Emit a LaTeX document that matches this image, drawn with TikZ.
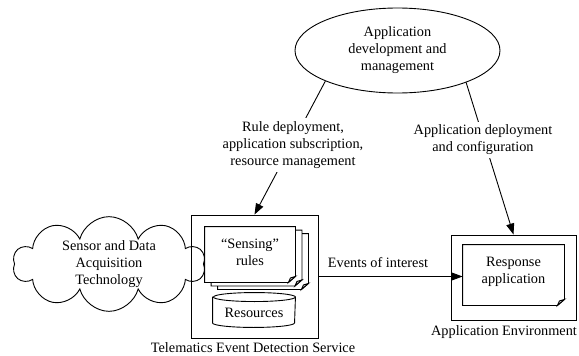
\documentclass[tikz,border=0pt]{standalone}
\usepackage{fontspec}
\setmainfont{Liberation Serif}
\usetikzlibrary{arrows.meta,shapes.geometric,shapes.symbols,calc}
\newcommand\foldeddoc[1]{%
  \draw[fill=white] (#1.north west) -- (#1.north east) -- ([yshift=6pt]#1.south east)
    -- ([xshift=-7pt]#1.south east) -- (#1.south west) -- cycle;
  \draw[fill=gray!25] ([yshift=6pt]#1.south east) -- ([xshift=-5pt,yshift=4.5pt]#1.south east)
    -- ([xshift=-7pt]#1.south east) -- cycle;}
\begin{document}
\begin{tikzpicture}[x=1pt,y=-1pt,line width=0.9pt,
  txt/.style={font=\fontsize{14.3}{17}\selectfont,align=center,inner sep=0pt},
  lbl/.style={txt,fill=white,inner sep=3pt},
  box/.style={draw,rectangle,inner sep=0pt},
  docnode/.style={rectangle,inner sep=0pt},
  arr/.style={-{Triangle[length=11pt,width=8pt]}}]
\useasboundingbox (0,0) rectangle (579,356);
% top ellipse
\node[draw,ellipse,minimum width=205pt,minimum height=85pt,txt] (app) at (397.5,50.5)
  {Application\\development and\\management};
% cloud
\node[draw,cloud,cloud puffs=10,cloud ignores aspect,minimum width=192pt,minimum height=92pt,txt]
  (sdat) at (109,264) {Sensor and Data\\Acquisition\\Technology};
% telematics box
\node[box,minimum width=127pt,minimum height=123pt] (tes) at (254.5,276.5) {};
\node[txt,anchor=base] (tesl) at (253,352) {Telematics Event Detection Service};
% sensing docs
\node[docnode,minimum width=90pt,minimum height=55pt] (s3) at (263,261.5) {};
\node[docnode,minimum width=90pt,minimum height=55pt] (s2) at (256.5,258) {};
\node[docnode,minimum width=90pt,minimum height=55pt] (s1) at (250,254.5) {};
\foldeddoc{s3}
\foldeddoc{s2}
\foldeddoc{s1}
\node[txt] (s1t) at ([yshift=2pt]s1.center) {“Sensing”\\rules};
% resources cylinder
\node[docnode,minimum width=82pt,minimum height=34pt] (res) at (254,310) {};
\draw[fill=white] ([yshift=-4.5pt]res.north west) -- ([yshift=4.5pt]res.south west)
  arc[start angle=180,end angle=360,x radius=41pt,y radius=4.5pt]
  -- ([yshift=-4.5pt]res.north east)
  arc[start angle=0,end angle=180,x radius=41pt,y radius=4.5pt] -- cycle;
\draw ([yshift=-4.5pt]res.north east) arc[start angle=0,end angle=-180,x radius=41pt,y radius=4.5pt];
\node[txt] (rest) at ([yshift=-3pt]res.center) {Resources};
% application environment
\node[box,minimum width=125pt,minimum height=85pt] (env) at (513.5,277.5) {};
\node[txt,anchor=base] (envl) at (504,335) {Application Environment};
\node[docnode,minimum width=101pt,minimum height=60pt] (resp) at (513.5,275) {};
\foldeddoc{resp}
\node[txt] (respt) at ([yshift=3pt]resp.center) {Response\\application};
% connectors
\draw[arr] (app.203.5) -- (tes.north);
\draw[arr] (app.335) -- (env.north);
\draw[arr] (tes.east) -- (tes.east -| resp.west);
% connector labels
\node[lbl] (l1) at (293,145) {Rule deployment,\\application subscription,\\resource management};
\node[lbl] (l2) at (483,140) {Application deployment\\and configuration};
\node[txt] (l3) at (378,263) {Events of interest};
\end{tikzpicture}
\end{document}
